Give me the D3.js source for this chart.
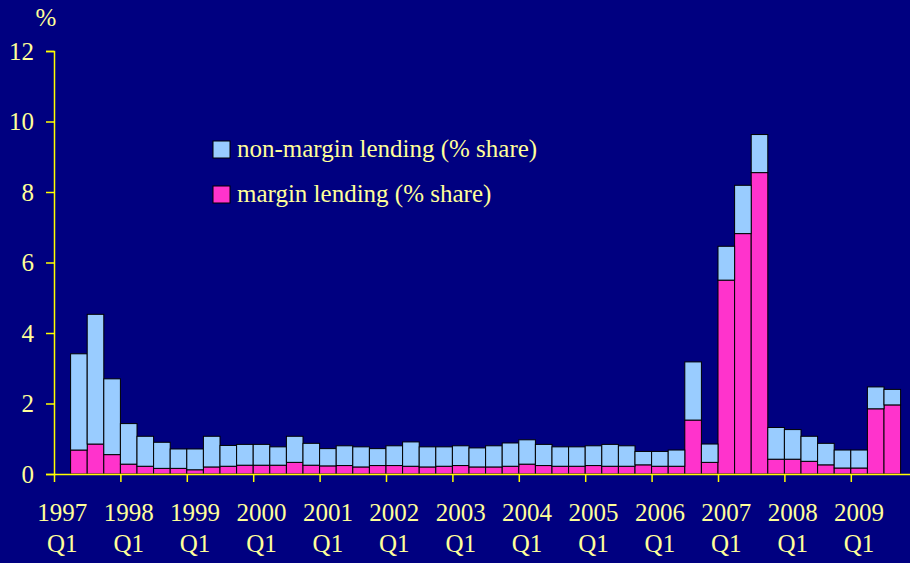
<!DOCTYPE html>
<html>
<head>
<meta charset="utf-8">
<script src="https://cdn.jsdelivr.net/npm/d3@7"></script>
<style>
  html, body { margin: 0; padding: 0; background: #000080; }
  svg { display: block; }
</style>
</head>
<body>
<div id="chart"></div>
<script>
// Quarters 1997 Q1 .. 2009 Q4 (first and last quarter have no data)
var years = ['1997','1998','1999','2000','2001','2002','2003','2004','2005','2006','2007','2008','2009'];
var quarters = years.flatMap((y) => ['Q1','Q2','Q3','Q4'].map((q) => y + ' ' + q));

// margin lending (% share)
var margin = [null,
  0.68, 0.85, 0.55,
  0.28, 0.22, 0.16, 0.16,
  0.12, 0.20, 0.22, 0.25,
  0.25, 0.25, 0.33, 0.25,
  0.23, 0.24, 0.20, 0.24,
  0.24, 0.22, 0.20, 0.22,
  0.24, 0.20, 0.20, 0.22,
  0.28, 0.24, 0.22, 0.22,
  0.24, 0.22, 0.22, 0.26,
  0.22, 0.22, 1.53, 0.33,
  5.50, 6.82, 8.55, 0.42,
  0.42, 0.36, 0.26, 0.17,
  0.17, 1.85, 1.96, null];

// non-margin lending (% share)
var nonMargin = [null,
  2.73, 3.68, 2.15,
  1.15, 0.85, 0.74, 0.55,
  0.59, 0.87, 0.59, 0.59,
  0.59, 0.52, 0.74, 0.62,
  0.49, 0.56, 0.57, 0.48,
  0.56, 0.69, 0.57, 0.55,
  0.56, 0.54, 0.60, 0.66,
  0.69, 0.60, 0.55, 0.55,
  0.56, 0.62, 0.58, 0.38,
  0.42, 0.46, 1.65, 0.52,
  0.96, 1.37, 1.08, 0.90,
  0.84, 0.71, 0.61, 0.51,
  0.51, 0.62, 0.44, null];

var yTicks = [0, 2, 4, 6, 8, 10, 12];

var width = 910;
var height = 563;
var left = 54;
var quarterW = 16.6;
var axisYellow = '#ffff00';
var textYellow = '#ffff99';
var fontSize = 25;
var serif = '"Times New Roman", Times, "Liberation Serif", Tinos, "Noto Serif", "DejaVu Serif", FreeSerif, serif';

var svg = d3.select('#chart')
  .append('svg')
  .attr('width', width)
  .attr('height', height)
  .style('font-family', serif);

svg.append('rect')
  .attr('width', width)
  .attr('height', height)
  .attr('fill', '#000080');

var x = d3.scaleBand()
  .domain(quarters)
  .range([left, left + quarters.length * quarterW])
  .padding(0);

var y = d3.scaleLinear()
  .domain([0, 12])
  .range([474, 51]);

var rows = quarters.map((q, i) => ({ q: q, margin: margin[i], nonMargin: nonMargin[i] }))
  .filter((d) => d.margin != null);

var stack = d3.stack().keys(['margin', 'nonMargin'])(rows);
var colors = { margin: '#ff33cc', nonMargin: '#99ccff' };

svg.append('g')
  .selectAll('g')
  .data(stack)
  .join('g')
  .attr('fill', (s) => colors[s.key])
  .selectAll('rect')
  .data((s) => s)
  .join('rect')
  .attr('x', (d) => x(d.data.q))
  .attr('width', x.bandwidth())
  .attr('y', (d) => y(d[1]))
  .attr('height', (d) => y(d[0]) - y(d[1]))
  .attr('stroke', '#000')
  .attr('stroke-width', 1);

// Y axis
var yAxis = svg.append('g')
  .attr('transform', `translate(${left}, 0)`)
  .call(d3.axisLeft(y).tickValues(yTicks).tickSize(8).tickPadding(12).tickFormat(d3.format('d')));

yAxis.attr('font-family', null).attr('font-size', null);
yAxis.select('.domain').attr('stroke', axisYellow).attr('stroke-width', 1.5);
yAxis.selectAll('.tick line').attr('stroke', axisYellow).attr('stroke-width', 1.5);
yAxis.selectAll('.tick text')
  .attr('fill', textYellow)
  .style('font-family', serif)
  .style('font-size', fontSize + 'px');

// X axis: ticks at year boundaries
var xq = d3.scaleLinear().domain([0, quarters.length]).range(x.range());
var xAxis = svg.append('g')
  .attr('transform', `translate(0, ${y(0)})`)
  .call(d3.axisBottom(xq).tickValues(d3.range(0, quarters.length + 1, 4)).tickSize(8).tickSizeOuter(0).tickFormat(''));

xAxis.select('.domain').attr('stroke', axisYellow).attr('stroke-width', 1.5);
xAxis.selectAll('.tick line').attr('stroke', axisYellow).attr('stroke-width', 1.5);

// X labels: year and Q1 under each first quarter
var labels = svg.append('g')
  .selectAll('text')
  .data(years)
  .join('text')
  .attr('text-anchor', 'middle')
  .attr('fill', textYellow)
  .style('font-family', serif)
  .style('font-size', fontSize + 'px');

labels.append('tspan')
  .attr('x', (d) => x(d + ' Q1') + x.bandwidth() / 2)
  .attr('y', 521)
  .text((d) => d);

labels.append('tspan')
  .attr('x', (d) => x(d + ' Q1') + x.bandwidth() / 2)
  .attr('y', 552)
  .text('Q1');

// Unit label
svg.append('text')
  .attr('x', 46)
  .attr('y', 26)
  .attr('text-anchor', 'middle')
  .attr('fill', textYellow)
  .style('font-family', serif)
  .style('font-size', fontSize + 'px')
  .text('%');

// Legend
var legendItems = [
  { key: 'nonMargin', label: 'non-margin lending (% share)' },
  { key: 'margin', label: 'margin lending (% share)' }
];

var legend = svg.append('g')
  .selectAll('g')
  .data(legendItems)
  .join('g')
  .attr('transform', (d, i) => `translate(213, ${141 + i * 45})`);

legend.append('rect')
  .attr('width', 17)
  .attr('height', 17)
  .attr('fill', (d) => colors[d.key])
  .attr('stroke', '#000')
  .attr('stroke-width', 1);

legend.append('text')
  .attr('x', 24)
  .attr('y', 16)
  .attr('fill', textYellow)
  .style('font-family', serif)
  .style('font-size', fontSize + 'px')
  .text((d) => d.label);
</script>
</body>
</html>
